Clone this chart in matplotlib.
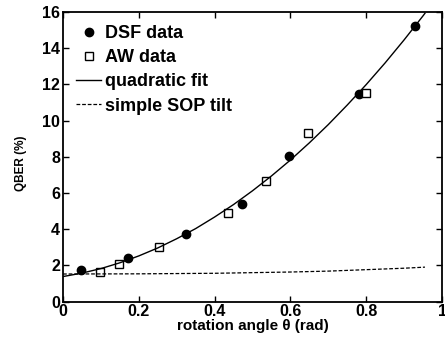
import numpy as np
import matplotlib
matplotlib.use('Agg')
import matplotlib.pyplot as plt

plt.rcParams['font.family'] = ['Liberation Sans', 'DejaVu Sans']
plt.rcParams['font.weight'] = 'bold'

# measured points
dsf_theta = [0.047, 0.172, 0.324, 0.471, 0.595, 0.780, 0.930]
dsf_qber = [1.75, 2.42, 3.72, 5.40, 8.02, 11.48, 15.25]

aw_theta = [0.098, 0.148, 0.252, 0.436, 0.536, 0.647, 0.799]
aw_qber = [1.62, 2.08, 3.00, 4.90, 6.68, 9.30, 11.52]

# quadratic fit curve
fit_theta = [0.0, 0.05, 0.1, 0.15, 0.2, 0.25, 0.3, 0.35, 0.4, 0.45, 0.5,
             0.55, 0.6, 0.65, 0.7, 0.75, 0.8, 0.85, 0.9, 0.95, 0.955]
fit_qber = [1.38, 1.57, 1.82, 2.14, 2.52, 2.96, 3.47, 4.03, 4.67, 5.36, 6.12,
            6.94, 7.82, 8.77, 9.78, 10.86, 11.99, 13.19, 14.46, 15.79, 15.93]

# simple SOP tilt model
sop_theta = [0.0, 0.2, 0.4, 0.6, 0.7, 0.8, 0.9, 0.955]
sop_qber = [1.52, 1.53, 1.56, 1.63, 1.68, 1.76, 1.84, 1.90]

fig = plt.figure(figsize=(4.45, 3.41), dpi=100)
ax = fig.add_axes([0.1416, 0.1158, 0.8517, 0.849])

ax.plot(dsf_theta, dsf_qber, 'o', color='black', markersize=6, label='DSF data')
ax.plot(aw_theta, aw_qber, 's', markerfacecolor='white', markeredgecolor='black',
        markersize=5.5, markeredgewidth=1.0, label='AW data')
ax.plot(fit_theta, fit_qber, '-', color='black', linewidth=1.0, label='quadratic fit')
ax.plot(sop_theta, sop_qber, color='black', linewidth=0.9, linestyle=(0, (3, 1.5)),
        label='simple SOP tilt')

ax.set_xlim(0, 1)
ax.set_ylim(0, 16)
ax.set_xticks([0, 0.2, 0.4, 0.6, 0.8, 1])
ax.set_xticklabels(['0', '0.2', '0.4', '0.6', '0.8', '1'])
ax.set_yticks(np.arange(0, 17, 2))
ax.tick_params(direction='in', top=True, right=True, length=4, width=1,
               labelsize=11.5, pad=2)
for s in ax.spines.values():
    s.set_linewidth(1.3)

ax.set_xlabel('rotation angle θ (rad)', fontsize=11, fontweight='bold', labelpad=0)
fig.text(0.047, 0.52, 'QBER (%)', rotation=90, fontsize=8.5, fontweight='bold',
         ha='center', va='center')

ax.legend(loc='upper left', bbox_to_anchor=(0.034, 0.955), frameon=False,
          prop={'size': 13, 'weight': 'bold'}, borderpad=0, borderaxespad=0,
          handlelength=1.4, handletextpad=0.2, labelspacing=0.4)

fig.savefig('out.png', dpi=100)
